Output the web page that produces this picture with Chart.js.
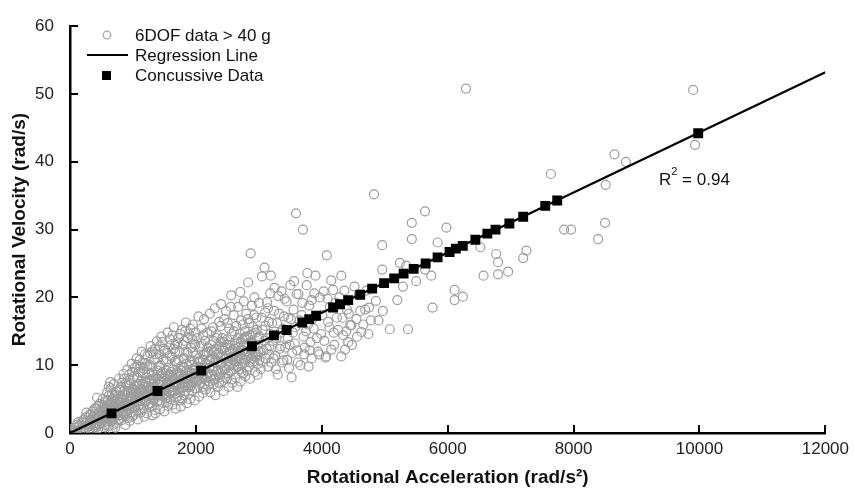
<!DOCTYPE html>
<html>
<head>
<meta charset="utf-8">
<title>Rotational Velocity vs Rotational Acceleration</title>
<script src="https://cdn.jsdelivr.net/npm/chart.js@4/dist/chart.umd.min.js"></script>
<style>
  body { margin: 0; background: #fff; }
  #wrap { width: 855px; height: 498px; }
</style>
</head>
<body>
<div id="wrap"><canvas id="velocity-chart" width="855" height="498"></canvas></div>
<script>
// 6DOF head impacts > 40 g [acceleration rad/s^2, velocity rad/s]
var dofPoints = [
  [40,0.3],[80,0.8],[120,0.2],[150,1.1],[170,0.5],[190,1.6],[110,1.2],[60,0.1],
  [210,0.4],[230,1.5],[250,2.3],[270,0.9],[290,1.8],[310,0.6],[330,2.7],[340,1.3],[360,3.2],[380,2.0],[395,0.8],[260,3.0],
  [410,1.5],[420,3.6],[440,2.4],[450,0.7],[470,4.3],[480,1.9],[500,3.0],[510,0.5],[520,5.0],[540,2.2],[550,3.9],[560,1.2],[570,4.7],[580,2.8],[590,6.0],[600,3.4],[430,5.2],[530,1.6],
  [610,1.0],[620,5.5],[630,2.6],[640,4.1],[650,6.6],[660,1.8],[670,3.7],[680,5.0],[690,2.3],[700,7.2],[710,3.1],[720,4.6],[730,1.4],[740,6.1],[750,2.9],[760,5.4],[770,3.8],[780,8.0],[790,2.0],[800,4.4],[640,7.5],[720,0.8],
  [810,6.8],[820,1.9],[830,3.6],[840,5.7],[850,8.7],[860,2.7],[870,4.2],[880,7.3],[890,3.2],[900,5.0],[910,9.3],[920,2.2],[930,6.2],[940,4.6],[950,7.8],[960,3.0],[970,5.4],[980,10.2],[990,3.8],[1000,6.5],[880,1.2],[950,1.8],
  [1010,2.6],[1020,8.4],[1030,4.9],[1040,7.0],[1050,3.3],[1060,11.0],[1070,5.6],[1080,2.0],[1090,9.0],[1100,4.1],[1110,6.3],[1120,3.0],[1130,7.7],[1140,12.0],[1150,5.0],[1160,8.8],[1170,3.6],[1180,6.8],[1190,10.3],[1200,4.6],[1050,6.0],[1120,9.8],[1180,2.4],
  [1210,7.4],[1220,2.9],[1230,11.4],[1240,5.4],[1250,8.9],[1260,3.8],[1270,6.6],[1280,12.8],[1290,4.4],[1300,9.7],[1310,2.6],[1320,7.2],[1330,5.0],[1340,10.8],[1350,3.4],[1360,8.2],[1370,6.0],[1380,13.5],[1390,4.7],[1400,9.2],[1250,6.3],[1330,7.9],[1360,2.9],
  [1410,5.6],[1420,11.6],[1430,3.5],[1440,7.6],[1450,14.2],[1460,4.5],[1470,9.0],[1480,6.4],[1490,12.4],[1500,3.2],[1510,8.1],[1520,5.2],[1530,10.6],[1540,7.0],[1550,14.8],[1560,4.0],[1570,9.6],[1580,6.0],[1590,12.9],[1600,5.0],[1460,8.4],[1520,6.8],[1580,8.6],[1440,10.0],
  [1610,7.8],[1620,11.2],[1630,4.2],[1640,9.4],[1650,15.6],[1660,6.2],[1670,13.0],[1680,3.6],[1690,8.6],[1700,10.4],[1710,5.4],[1720,14.0],[1730,7.2],[1740,12.0],[1750,4.8],[1760,9.8],[1770,6.6],[1780,15.2],[1790,8.0],[1800,11.0],[1650,6.8],[1720,8.8],[1760,3.9],
  [1810,5.6],[1820,13.6],[1830,7.4],[1840,16.3],[1850,9.2],[1860,4.4],[1870,11.8],[1880,6.8],[1890,14.6],[1900,8.4],[1910,5.0],[1920,12.6],[1930,10.0],[1940,6.2],[1950,16.0],[1960,7.6],[1970,13.2],[1980,4.8],[1990,9.6],[2000,11.4],[1850,8.0],[1930,7.0],
  [2010,6.6],[2020,14.0],[2030,8.2],[2040,17.2],[2050,5.4],[2060,10.6],[2070,12.8],[2080,7.4],[2090,15.4],[2100,9.0],[2110,5.9],[2120,11.6],[2130,16.8],[2140,8.0],[2150,13.6],[2160,6.4],[2170,10.2],[2180,14.8],[2190,7.0],[2200,12.0],
  [2210,9.6],[2220,17.6],[2230,6.0],[2240,13.0],[2250,8.6],[2260,11.0],[2270,15.6],[2280,7.2],[2290,10.4],[2300,18.4],[2310,5.6],[2320,12.4],[2330,9.0],[2340,14.4],[2350,6.8],[2360,11.8],[2370,16.4],[2380,8.2],[2390,13.4],[2400,10.2],[2400,19.0],
  [2410,7.6],[2420,14.0],[2430,11.2],[2440,6.2],[2450,16.8],[2460,9.4],[2470,12.6],[2480,18.0],[2490,8.0],[2500,13.8],[2510,10.6],[2520,6.8],[2530,15.4],[2540,11.8],[2550,9.0],[2560,20.3],[2570,14.6],[2580,7.4],[2590,12.2],[2600,17.4],
  [2610,10.0],[2620,13.2],[2630,8.2],[2640,15.8],[2650,11.4],[2660,6.8],[2670,18.6],[2680,12.6],[2690,9.4],[2700,14.6],[2710,7.6],[2720,16.6],[2730,11.0],[2740,13.8],[2750,8.8],[2760,19.4],[2770,10.4],[2780,15.0],[2790,12.0],[2800,17.6],
  [2810,9.2],[2820,14.2],[2830,22.2],[2840,11.2],[2850,16.2],[2860,8.0],[2870,26.5],[2880,13.4],[2890,18.8],[2900,10.4],[2910,15.6],[2920,12.0],[2930,20.0],[2940,9.0],[2950,14.8],[2960,17.0],[2970,11.6],[2980,8.6],[2990,13.0],[3000,19.2],
  [3010,10.8],[3030,9.4],[3050,23.1],[3060,15.2],[3070,12.2],[3090,24.4],[3100,17.8],[3110,11.0],[3130,19.3],[3140,14.0],[3150,9.8],[3160,16.4],[3170,12.8],[3190,23.2],[3200,10.4],[3180,20.6],
  [3220,13.6],[3240,18.0],[3260,11.4],[3270,9.4],[3290,16.2],[3310,20.2],[3330,12.4],[3340,14.8],[3360,20.9],[3370,10.4],[3390,10.7],[3400,17.2],[3300,8.6],
  [3420,12.6],[3440,19.4],[3460,14.0],[3480,9.6],[3500,21.8],[3510,16.8],[3520,8.2],[3530,11.8],[3550,18.2],[3570,13.2],[3590,32.4],[3600,20.5],[3580,15.6],
  [3620,10.4],[3630,20.5],[3660,10.0],[3680,17.4],[3700,30.0],[3710,14.2],[3730,12.6],[3760,21.8],[3780,16.0],[3790,9.8],[3800,18.8],
  [3820,13.4],[3840,19.6],[3840,11.0],[3870,15.4],[3900,23.2],[3910,17.2],[3940,12.0],[3970,20.0],[3990,14.6],
  [4030,20.9],[4060,11.1],[4070,11.3],[4080,26.2],[4100,16.4],[4150,22.5],[4150,12.3],[4180,21.1],[4130,18.6],[4190,14.8],
  [4240,17.0],[4310,23.2],[4310,11.3],[4340,14.4],[4370,12.3],[4420,13.4],[4450,15.9],[4470,15.9],[4280,20.0],[4400,18.2],
  [4610,18.0],[4630,14.9],[4690,18.2],[4740,14.6],[4750,18.5],[4830,35.2],[4860,19.5],[4960,24.1],[4960,27.7],[4970,18.0],[4550,16.8],
  [5080,15.3],[5200,19.6],[5240,25.1],[5290,21.6],[5340,24.7],[5370,15.3],[5430,31.0],[5430,28.6],[5500,22.4],
  [5640,32.7],[5640,24.1],[5740,23.2],[5760,18.5],[5840,28.1],[5980,30.3],
  [6110,21.1],[6110,19.6],[6240,20.1],[6290,50.8],[6520,27.4],[6570,23.2],[6770,26.4],[6800,25.2],[6800,23.4],[6960,23.8],
  [7200,25.8],[7250,26.9],[7640,38.2],[7850,30.0],[7960,30.0],[8390,28.6],[8500,31.0],[8510,36.6],[8650,41.1],[8830,40.0],
  [9900,50.6],[9930,42.5]
];

// second pass over the dense cloud below 5000 rad/s^2
var dofPointsDense = [
  [20,0.6],[90,0.1],[130,1.6],[180,0.9],[220,2.0],[240,0.2],[280,1.2],[300,2.6],[320,1.7],[350,0.4],[370,2.5],[390,3.6],
  [405,2.8],[425,0.9],[445,4.0],[465,1.3],[485,3.3],[505,2.1],[525,4.1],[545,0.9],[565,3.1],[585,1.7],[605,4.9],[625,2.0],[645,3.3],[665,5.8],[685,1.2],[705,4.0],[725,2.6],[745,5.0],[765,1.9],[785,3.4],[795,6.4],[615,6.8],[675,0.5],
  [805,2.6],[825,4.9],[845,3.0],[865,6.3],[885,4.5],[905,2.7],[925,7.1],[945,3.6],[965,6.0],[985,2.4],[1005,8.0],[1025,3.8],[1045,5.2],[1065,8.2],[1085,3.9],[1105,7.2],[1125,5.4],[1145,3.4],[1165,9.5],[1185,5.8],[1195,7.6],[915,4.0],[1095,6.2],[1015,5.7],
  [1205,5.9],[1225,8.2],[1245,4.2],[1265,10.0],[1285,6.2],[1305,4.0],[1325,8.6],[1345,6.4],[1365,11.6],[1385,5.6],[1405,7.2],[1425,4.8],[1445,8.8],[1465,6.0],[1485,10.8],[1505,5.8],[1525,9.2],[1545,4.6],[1565,7.6],[1585,11.4],[1595,6.7],[1295,7.8],[1415,9.8],[1535,7.4],
  [1605,9.0],[1625,6.0],[1645,12.4],[1665,8.0],[1685,5.2],[1705,7.4],[1725,10.8],[1745,6.0],[1765,8.6],[1785,5.0],[1805,9.6],[1825,7.0],[1845,12.0],[1865,8.8],[1885,5.8],[1905,10.6],[1925,8.2],[1945,13.8],[1965,9.2],[1985,6.6],[1995,14.8],[1675,10.6],[1815,11.0],[1735,8.3],
  [2005,9.8],[2025,7.8],[2045,11.0],[2065,8.8],[2085,13.2],[2105,6.8],[2125,9.6],[2145,11.6],[2165,8.6],[2185,12.6],[2205,7.6],[2225,10.8],[2245,15.0],[2265,9.2],[2285,12.0],[2305,8.0],[2325,14.0],[2345,10.6],[2365,7.4],[2385,11.2],[2395,15.8],[2115,14.4],[2275,13.6],
  [2405,12.6],[2425,9.2],[2445,13.4],[2465,8.2],[2485,11.0],[2505,16.2],[2525,9.8],[2545,13.0],[2565,7.9],[2585,10.8],[2605,15.0],[2625,11.6],[2645,9.8],[2665,14.0],[2685,10.8],[2705,12.2],[2725,9.0],[2745,16.0],[2765,12.8],[2785,8.4],[2795,14.2],[2555,18.6],[2705,20.8],
  [2805,12.0],[2825,16.8],[2845,9.8],[2865,14.4],[2885,11.0],[2905,13.2],[2925,17.4],[2945,11.2],[2965,15.2],[2985,10.2],[3005,14.2],[3025,12.0],[3045,17.0],[3065,10.4],[3085,13.6],[3105,15.8],[3125,12.4],[3145,18.4],[3165,11.6],[3185,14.6],
  [3210,16.2],[3230,11.0],[3250,21.4],[3280,14.0],[3320,17.6],[3350,12.8],[3380,15.4],[3410,19.8],[3450,10.8],[3470,17.0],[3490,13.0],[3540,14.8],[3560,22.4],[3610,12.2],[3650,16.6],[3690,19.2],[3720,11.6],[3750,15.0],[3770,23.6],[3810,12.2],[3850,16.8],[3880,20.6],[3920,14.0],[3960,11.6],
  [4010,17.4],[4040,13.6],[4090,19.8],[4120,15.6],[4200,13.0],[4220,19.2],[4260,15.2],[4330,17.0],[4360,21.0],[4390,15.0],[4430,17.6],[4480,13.0],[4520,21.6],[4560,14.2],[4590,20.4],[4660,16.0],[4710,21.0],[4780,16.6],[4900,16.6]
];

// the core of the cloud, close to the fitted line
var dofPointsCore = [
  [315,1.0],[335,2.0],[355,1.6],[375,1.1],[415,2.1],[435,1.4],[455,2.9],[475,2.5],[495,1.5],[515,2.6],[535,3.4],[555,2.0],[575,3.6],[595,2.4],
  [612,3.0],[632,4.4],[652,2.4],[672,4.8],[692,3.4],[712,5.6],[732,3.6],[752,4.2],[772,2.6],[792,5.0],[812,3.9],[832,5.2],[852,4.0],[872,5.6],[892,3.8],[912,6.0],[932,4.2],[952,5.1],[972,4.2],[992,6.4],
  [1012,4.6],[1032,6.3],[1052,4.6],[1072,7.0],[1092,5.2],[1112,4.8],[1132,6.2],[1152,7.2],[1172,5.2],[1192,6.2],[1212,4.8],[1232,6.8],[1252,5.4],[1272,7.8],[1292,5.6],[1312,6.8],[1332,4.8],[1352,7.6],[1372,5.4],[1392,8.0],
  [1412,6.6],[1432,5.6],[1452,7.4],[1472,5.4],[1492,8.2],[1512,6.4],[1532,5.6],[1552,8.4],[1572,6.6],[1592,7.6],[1612,6.2],[1632,8.2],[1652,7.2],[1672,5.8],[1692,7.0],[1712,9.0],[1732,6.4],[1752,7.6],[1772,9.2],[1792,6.8],
  [1812,8.4],[1832,6.2],[1852,10.2],[1872,7.6],[1892,9.0],[1912,6.8],[1932,8.8],[1952,7.4],[1972,10.6],[1992,8.0],[2012,8.8],[2032,10.4],[2052,7.8],[2072,9.6],[2092,8.2],[2112,10.8],[2132,7.2],[2152,9.6],[2172,11.8],[2192,8.8],
  [2212,10.6],[2232,8.4],[2252,12.2],[2272,9.8],[2292,7.8],[2312,10.8],[2332,11.6],[2352,9.2],[2372,12.8],[2392,8.8],[2412,10.4],[2432,12.4],[2452,9.6],[2472,11.0],[2492,13.0],[2512,8.8],[2532,12.0],[2552,10.2],[2572,11.2],[2592,9.4],
  [2615,12.4],[2635,10.6],[2655,13.2],[2675,9.8],[2695,11.8],[2715,13.4],[2735,10.2],[2755,12.2],[2775,14.0],[2795,10.8],[2815,13.2],[2835,11.8],[2855,10.4],[2875,12.2],[2895,14.6],[2915,10.6],[2935,13.0],[2955,11.8],[2975,14.0],[2995,12.0],
  [820,7.4],[860,8.0],[900,7.0],[940,8.6],[990,9.0],[1030,9.6],[1070,10.0],[1110,10.8],[1150,10.4],[1190,11.6],[1230,9.8],[1270,11.8],[1310,12.0],[1350,12.4],[1390,11.0],
  [1430,12.8],[1470,13.4],[1510,12.2],[1550,11.8],[1590,13.8],[1630,14.4],[1670,12.0],[1710,13.2],[1750,14.6],[1790,13.0],[1830,15.0],[1870,14.0],[1910,15.4],[1950,12.0],[1990,13.0]
];

// concussive impacts (all sit on the regression line)
var concussAccel = [660, 1390, 2085, 2890, 3240, 3440, 3690, 3800, 3910, 4180, 4290, 4420, 4610, 4800, 4990, 5150,
  5300, 5460, 5650, 5840, 6030, 6130, 6240, 6440, 6630, 6760, 6980, 7200, 7550, 7740, 9980];
var concussVel = [2.9, 6.2, 9.2, 12.8, 14.4, 15.2, 16.3, 16.8, 17.3, 18.5, 19.0, 19.6, 20.4, 21.3, 22.1, 22.8,
  23.5, 24.2, 25.0, 25.9, 26.7, 27.2, 27.6, 28.5, 29.4, 30.0, 30.9, 31.9, 33.5, 34.3, 44.2];

// regression line end points
var regAccel = [0, 12000];
var regVel = [0, 53.2];

var xTicks = [0, 2000, 4000, 6000, 8000, 10000, 12000];
var yTicks = [0, 10, 20, 30, 40, 50, 60];

var FONT = "'Liberation Sans', Arial, sans-serif";

// Ticks point into the plot, so draw them by hand from the scales
var innerTicks = {
    id: 'innerTicks',
    afterDatasetsDraw: function (chart) {
        var ctx = chart.ctx;
        var xs = chart.scales.x, ys = chart.scales.y;
        var area = chart.chartArea;
        ctx.save();
        ctx.strokeStyle = '#000';
        ctx.lineWidth = 2;
        ctx.beginPath();
        xTicks.forEach(function (v) {
            if (v === 0) return;
            var px = Math.round(xs.getPixelForValue(v));
            ctx.moveTo(px, area.bottom);
            ctx.lineTo(px, area.bottom - 8);
        });
        yTicks.forEach(function (v) {
            if (v === 0) return;
            var py = Math.round(ys.getPixelForValue(v));
            ctx.moveTo(area.left, py);
            ctx.lineTo(area.left + 8, py);
        });
        ctx.stroke();
        ctx.restore();
    }
};

// Legend box in the top left corner + R^2 label
var notes = {
    id: 'notes',
    afterDraw: function (chart) {
        var ctx = chart.ctx;
        ctx.save();
        ctx.font = '17px ' + FONT;
        ctx.fillStyle = '#111';
        ctx.textBaseline = 'middle';
        ctx.textAlign = 'left';

        // circle
        ctx.strokeStyle = '#a0a0a0';
        ctx.lineWidth = 1.2;
        ctx.beginPath();
        ctx.arc(107, 35, 3.8, 0, Math.PI * 2);
        ctx.stroke();
        ctx.fillText('6DOF data > 40 g', 135, 36);

        // line
        ctx.strokeStyle = '#000';
        ctx.lineWidth = 2;
        ctx.beginPath();
        ctx.moveTo(87, 55);
        ctx.lineTo(128, 55);
        ctx.stroke();
        ctx.fillText('Regression Line', 135, 56);

        // square
        ctx.fillStyle = '#000';
        ctx.fillRect(102, 71, 9, 9);
        ctx.fillStyle = '#111';
        ctx.fillText('Concussive Data', 135, 76);

        // R squared
        ctx.fillText('R', 659, 180);
        var w = ctx.measureText('R').width;
        ctx.font = '11px ' + FONT;
        ctx.fillText('2', 659 + w, 172);
        var w2 = ctx.measureText('2').width;
        ctx.font = '17px ' + FONT;
        ctx.fillText(' = 0.94', 659 + w + w2, 180);
        ctx.restore();
    }
};

var dofData = dofPoints.concat(dofPointsDense, dofPointsCore).map(function (p) { return { x: p[0], y: p[1] }; });
var concussData = concussAccel.map(function (a, i) { return { x: a, y: concussVel[i] }; });
var regData = regAccel.map(function (a, i) { return { x: a, y: regVel[i] }; });

new Chart(document.getElementById("velocity-chart"), {
    type: 'scatter',
    data: {
        datasets: [{
            label: 'Concussive Data',
            data: concussData,
            pointStyle: 'rect',
            pointRadius: 7,
            backgroundColor: '#000',
            borderColor: '#000',
            borderWidth: 0,
            order: 0
        }, {
            label: 'Regression Line',
            data: regData,
            showLine: true,
            pointRadius: 0,
            borderColor: '#000',
            borderWidth: 2.2,
            order: 1
        }, {
            label: '6DOF data > 40 g',
            data: dofData,
            pointStyle: 'circle',
            pointRadius: 4.5,
            backgroundColor: 'rgba(0,0,0,0)',
            borderColor: '#9c9c9c',
            borderWidth: 1.2,
            order: 2
        }]
    },
    options: {
        responsive: false,
        animation: false,
        devicePixelRatio: 1,
        layout: { padding: { left: 8, right: 25, top: 17, bottom: 9 } },
        plugins: {
            legend: { display: false },
            tooltip: { enabled: false }
        },
        scales: {
            x: {
                type: 'linear',
                min: 0,
                max: 12000,
                afterBuildTicks: function (scale) {
                    scale.ticks = xTicks.map(function (v) { return { value: v }; });
                },
                afterFit: function (scale) { scale.height = 56; },
                grid: { display: false, drawTicks: false },
                border: { display: true, color: '#000', width: 2.5 },
                ticks: {
                    padding: 6,
                    color: '#222',
                    maxRotation: 0,
                    font: { family: FONT, size: 17 },
                    callback: function (v) { return String(v); }
                },
                title: {
                    display: true,
                    text: 'Rotational Acceleration (rad/s\u00B2)',
                    color: '#111',
                    font: { family: FONT, size: 19, weight: 'bold' },
                    padding: { top: 6, bottom: 0 }
                }
            },
            y: {
                type: 'linear',
                min: 0,
                max: 60,
                afterBuildTicks: function (scale) {
                    scale.ticks = yTicks.map(function (v) { return { value: v }; });
                },
                afterFit: function (scale) { scale.width = 62; },
                grid: { display: false, drawTicks: false },
                border: { display: true, color: '#000', width: 2.5 },
                ticks: {
                    padding: 16,
                    color: '#222',
                    font: { family: FONT, size: 17 }
                },
                title: {
                    display: true,
                    text: 'Rotational Velocity (rad/s)',
                    color: '#111',
                    font: { family: FONT, size: 19, weight: 'bold' },
                    padding: { top: 0, bottom: 4 }
                }
            }
        }
    },
    plugins: [innerTicks, notes]
});
</script>
</body>
</html>
